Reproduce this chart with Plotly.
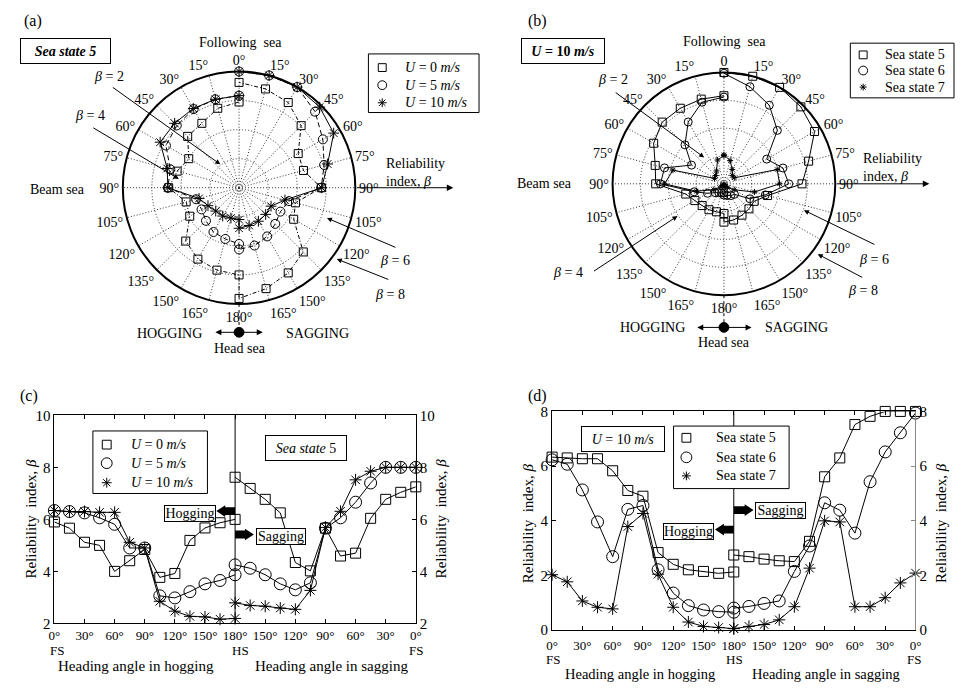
import plotly.graph_objects as go

W, H = 961, 690
FONT = "Liberation Serif"

# ---------------- data ----------------
headings = [0, 15, 30, 45, 60, 75, 90, 105, 120, 135, 150, 165, 180]

# Sea state 5 (panels a, c)
u0_hog = [5.9, 5.66, 5.12, 5.0, 4.0, 4.41, 4.84, 3.77, 3.92, 5.19, 5.67, 5.87, 6.0]
u0_sag = [7.25, 7.04, 6.77, 6.04, 4.7, 4.59, 5.66, 4.02, 4.34, 6.25, 6.77, 7.19, 7.62]
u5_hog = [6.34, 6.3, 6.25, 6.06, 5.81, 4.9, 4.9, 3.06, 2.98, 3.22, 3.52, 3.65, 3.87]
u5_sag = [8.0, 8.0, 8.0, 7.4, 6.66, 6.06, 5.66, 3.56, 3.29, 3.52, 3.87, 4.12, 4.25]
u10_hog = [6.34, 6.3, 6.3, 6.27, 6.27, 5.12, 4.9, 2.85, 2.47, 2.27, 2.25, 2.16, 2.19]
u10_sag = [8.0, 8.0, 8.0, 7.85, 7.52, 6.31, 5.69, 3.27, 2.54, 2.59, 2.66, 2.69, 2.79]

# U = 10 m/s (panels b, d)
ss5_hog = [6.33, 6.3, 6.27, 6.27, 5.83, 5.11, 4.9, 2.84, 2.41, 2.21, 2.15, 2.08, 2.13]
ss5_sag = [8.0, 8.0, 8.0, 7.82, 7.52, 6.3, 5.61, 3.25, 2.51, 2.54, 2.6, 2.69, 2.75]
ss6_hog = [6.23, 6.07, 5.13, 3.96, 2.69, 4.42, 4.56, 2.21, 1.36, 0.9, 0.74, 0.68, 0.66]
ss6_sag = [7.94, 7.22, 6.52, 5.43, 3.55, 4.39, 4.66, 3.08, 2.15, 1.07, 0.98, 0.87, 0.81]
ss7_hog = [2.03, 1.77, 1.07, 0.84, 0.78, 3.79, 4.27, 2.05, 0.84, 0.3, 0.14, 0.1, 0.06]
ss7_sag = [2.09, 1.73, 1.19, 0.86, 0.86, 3.96, 4.0, 2.27, 0.86, 0.38, 0.21, 0.14, 0.06]

names_a = ["<i>U</i> = 0 <i>m/s</i>", "<i>U</i> = 5 <i>m/s</i>", "<i>U</i> = 10 <i>m/s</i>"]
names_b = ["Sea state 5", "Sea state 6", "Sea state 7"]
polar_ticks = list(range(0, 360, 15))
cart_ticks = list(range(0, 361, 30))
cart_ticktext = ["0°", "30°", "60°", "90°", "120°", "150°", "180°",
                 "150°", "120°", "90°", "60°", "30°", "0°"]

# ---------------- helpers ----------------
def px(x):
    return x / W

def py(y):
    return 1 - y / H

annotations = []
shapes = []
FS = 15

def txt(x, y, s, size=FS, xanchor="center", yanchor="middle", **kw):
    annotations.append(dict(x=px(x), y=py(y), xref="paper", yref="paper", text=s,
                            showarrow=False, xanchor=xanchor, yanchor=yanchor,
                            font=dict(family=FONT, size=size, color="black"), **kw))

def box(x, y, s, w, h, size=FS):
    annotations.append(dict(x=px(x), y=py(y), xref="paper", yref="paper", text=s,
                            showarrow=False, xanchor="center", yanchor="middle",
                            width=w, height=h, bordercolor="black", borderwidth=1,
                            borderpad=0, bgcolor="white",
                            font=dict(family=FONT, size=size, color="black")))

def arrow(xh, yh, xt, yt, head=2, size=1.0, width=1):
    annotations.append(dict(x=px(xh), y=py(yh), xref="paper", yref="paper",
                            ax=xt - xh, ay=yt - yh, axref="pixel", ayref="pixel",
                            showarrow=True, arrowhead=head, arrowsize=size,
                            arrowwidth=width, arrowcolor="black", text=""))

def path_of(pts, close=True):
    p = "M " + " L ".join(f"{px(a):.5f},{py(b):.5f}" for a, b in pts)
    return p + (" Z" if close else "")

def fat_arrow(x_tail, x_tip, y, hh=6, bh=4, hl=9):
    d = 1 if x_tip > x_tail else -1
    xb = x_tip - d * hl
    pts = [(x_tip, y), (xb, y - hh), (xb, y - bh), (x_tail, y - bh),
           (x_tail, y + bh), (xb, y + bh), (xb, y + hh)]
    shapes.append(dict(type="path", path=path_of(pts), xref="paper", yref="paper",
                       fillcolor="black", line=dict(width=0)))

def vline(x, y0, y1, dash="dot", width=1):
    shapes.append(dict(type="line", xref="paper", yref="paper", x0=px(x), x1=px(x),
                       y0=py(y0), y1=py(y1), line=dict(color="black", width=width, dash=dash)))

def dot(x, y, r=5):
    shapes.append(dict(type="circle", xref="paper", yref="paper", x0=px(x - r), x1=px(x + r),
                       y0=py(y + r), y1=py(y - r), fillcolor="black", line=dict(color="black", width=1)))

def sym_shape(sym, x, y, s):
    r = s / 2
    ln = dict(color="black", width=1)
    if sym == "square-open":
        shapes.append(dict(type="rect", xref="paper", yref="paper", x0=px(x - r), x1=px(x + r),
                           y0=py(y + r), y1=py(y - r), line=ln))
    elif sym == "circle-open":
        shapes.append(dict(type="circle", xref="paper", yref="paper", x0=px(x - r), x1=px(x + r),
                           y0=py(y + r), y1=py(y - r), line=ln))
    else:
        d = r * 0.72
        p = " ".join([
            path_of([(x - r, y), (x + r, y)], False),
            path_of([(x, y - r), (x, y + r)], False),
            path_of([(x - d, y - d), (x + d, y + d)], False),
            path_of([(x - d, y + d), (x + d, y - d)], False)])
        shapes.append(dict(type="path", path=p, xref="paper", yref="paper", line=ln))

def legend_manual(x0, y0, x1, y1, rows, mx, tx, names, sizes, size=14):
    shapes.append(dict(type="rect", xref="paper", yref="paper", x0=px(x0), x1=px(x1),
                       y0=py(y1), y1=py(y0), line=dict(color="black", width=1),
                       fillcolor="white"))
    for yy, name, sym, s in zip(rows, names, symbols, sizes):
        sym_shape(sym, mx, yy, s)
        txt(tx, yy, name, size=size, xanchor="left")

symbols = ["square-open", "circle-open", "asterisk-open"]

fig = go.Figure()

# ---------------- polar panels ----------------
def polar_traces(subplot, hogs, sags, dashes, sizes):
    for hog, sag, sym, dash, sz in zip(hogs, sags, symbols, dashes, sizes):
        theta = [-h for h in headings] + [h for h in headings[::-1]]
        r = list(hog) + list(sag[::-1])
        fig.add_trace(go.Scatterpolar(
            r=r, theta=theta, subplot=subplot, mode="lines+markers", showlegend=False,
            line=dict(color="black", width=1, dash=dash),
            marker=dict(symbol=sym, size=sz, color="black", line=dict(width=1, color="black")),
            cliponaxis=False))

polar_traces("polar", [u0_hog, u5_hog, u10_hog], [u0_sag, u5_sag, u10_sag],
             ["4px,2px,1px,2px", "5px,3px", "solid"], [8, 9, 9])
polar_traces("polar2", [ss5_hog, ss6_hog, ss7_hog], [ss5_sag, ss6_sag, ss7_sag],
             ["solid", "solid", "solid"], [8, 8, 5])

def polar_layout(domx, domy, zero_text):
    ticktext = [(zero_text if v == 0 else (f"{v}°" if v <= 180 else f"{360 - v}°")) for v in polar_ticks]
    return dict(
        domain=dict(x=domx, y=domy), bgcolor="white",
        angularaxis=dict(direction="clockwise", rotation=90, tickmode="array",
                         tickvals=polar_ticks, ticktext=ticktext, ticks="",
                         showline=True, linecolor="black", linewidth=2,
                         showgrid=True, gridcolor="#333", gridwidth=1, griddash="1px,2px",
                         tickfont=dict(family=FONT, size=14, color="black")),
        radialaxis=dict(range=[0, 8], tickvals=[2, 4, 6], showticklabels=False, ticks="",
                        showline=False, showgrid=True, gridcolor="#333", gridwidth=1,
                        griddash="1px,2px"))

# ---------------- cartesian panels ----------------
def cart_traces(xa, ya, hogs, sags, sizes):
    for hog, sag, sym, sz in zip(hogs, sags, symbols, sizes):
        fig.add_trace(go.Scatter(x=headings, y=hog, xaxis=xa, yaxis=ya, mode="lines+markers",
                                 showlegend=False, cliponaxis=False,
                                 line=dict(color="black", width=1),
                                 marker=dict(symbol=sym, size=sz, color="black",
                                             line=dict(width=1, color="black"))))
        fig.add_trace(go.Scatter(x=[360 - h for h in headings], y=sag, xaxis=xa, yaxis=ya,
                                 mode="lines+markers", showlegend=False, cliponaxis=False,
                                 line=dict(color="black", width=1),
                                 marker=dict(symbol=sym, size=sz, color="black",
                                             line=dict(width=1, color="black"))))

cart_traces("x", "y", [u0_hog, u5_hog, u10_hog], [u0_sag, u5_sag, u10_sag], [10, 12, 10])
cart_traces("x2", "y3", [ss5_hog, ss6_hog, ss7_hog], [ss5_sag, ss6_sag, ss7_sag], [10, 12, 10])

# invisible helpers so the right-hand axes are drawn
fig.add_trace(go.Scatter(x=[None], y=[None], xaxis="x", yaxis="y2", showlegend=False, hoverinfo="skip"))
fig.add_trace(go.Scatter(x=[None], y=[None], xaxis="x2", yaxis="y4", showlegend=False, hoverinfo="skip"))

tickfont = dict(family=FONT, size=FS, color="black")
xtickfont = dict(family=FONT, size=13, color="black")

def xax(dom, anchor, standoff):
    return dict(domain=dom, anchor=anchor, range=[0, 360], tickmode="array",
                tickvals=cart_ticks, ticktext=cart_ticktext, ticks="inside", ticklen=4,
                tickangle=0, tickcolor="black", showline=True, linecolor="black", linewidth=1,
                mirror="ticks", showgrid=False, zeroline=False, tickfont=xtickfont,
                ticklabelstandoff=standoff)

def yax(dom, anchor, rng, tv, side="left", overlay=None, color="black"):
    d = dict(anchor=anchor, range=rng, tickmode="array", tickvals=tv, ticks="inside",
             ticklen=4, tickcolor=color, showline=True, linecolor=color, linewidth=1,
             showgrid=False, zeroline=False, tickfont=tickfont, side=side)
    if overlay:
        d["overlaying"] = overlay
    else:
        d["domain"] = dom
    return d

# divider lines at head sea
shapes.append(dict(type="line", xref="x", yref="y domain", x0=180, x1=180, y0=0, y1=1,
                   line=dict(color="black", width=1)))
shapes.append(dict(type="line", xref="x2", yref="y3 domain", x0=180, x1=180, y0=0, y1=1,
                   line=dict(color="black", width=1)))

# ---------------- panel (a) ----------------
txt(27, 13, "(a)", size=16)
box(60, 44, "<b><i>Sea state 5</i></b>", 89, 24, size=14)
txt(237, 35, "Following  sea", size=14)
txt(52, 186, "Beam sea", size=14)
arrow(453, 184, 355, 184, head=2, size=1.3)
txt(383, 168, "Reliability<br>index, <i>β</i>", xanchor="left", align="left", size=14)
txt(104, 70, "<i>β</i> = 2", size=14)
arrow(217, 160, 108, 82)
txt(85, 110, "<i>β</i> = 4", size=14)
arrow(175, 175, 88, 123)
txt(394, 258, "<i>β</i> = 6", size=14)
arrow(325, 215, 395, 245)
txt(389, 293, "<i>β</i> = 8", size=14)
arrow(335, 257, 388, 278)
vline(236, 303, 327)
dot(236, 332)
arrow(212, 332, 236, 332, head=2, size=1.2)
arrow(260, 332, 236, 332, head=2, size=1.2)
txt(166, 333, "HOGGING", size=14)
txt(315, 333, "SAGGING", size=14)
txt(237, 349, "Head sea", size=14)
legend_manual(367, 47, 479, 107, [61, 79, 97], 381, 402, names_a, [8, 9, 9])

# ---------------- panel (b) ----------------
txt(538, 13, "(b)", size=16)
box(564, 44, "<b><i>U</i> = 10 <i>m/s</i></b>", 82, 24, size=14)
txt(728, 34, "Following  sea", size=14)
txt(545, 180, "Beam sea", size=14)
arrow(935, 180, 841, 180, head=2, size=1.3)
txt(866, 163, "Reliability<br>index, <i>β</i>", xanchor="left", align="left", size=14)
txt(615, 73, "<i>β</i> = 2", size=14)
arrow(707, 153, 617, 87)
txt(569, 271, "<i>β</i> = 4", size=14)
arrow(680, 213, 595, 269)
txt(879, 257, "<i>β</i> = 6", size=14)
arrow(808, 207, 880, 242)
txt(868, 289, "<i>β</i> = 8", size=14)
arrow(822, 252, 868, 276)
vline(727, 294, 322)
dot(727, 327)
arrow(700, 327, 727, 327, head=2, size=1.2)
arrow(755, 327, 727, 327, head=2, size=1.2)
txt(655, 327, "HOGGING", size=14)
txt(800, 327, "SAGGING", size=14)
txt(727, 342, "Head sea", size=14)
legend_manual(855, 36, 960, 92, [48, 64, 81], 868, 888, names_b, [8, 9, 7])

# ---------------- panel (c) ----------------
txt(23, 397, "(c)", size=16)
box(304, 450, "<i>Sea state</i> 5", 80, 24, size=14)
box(186, 517, "Hogging", 50, 15, size=14)
fat_arrow(232, 213, 515)
box(278, 541, "Sagging", 48, 15, size=14)
fat_arrow(232, 251, 539)
txt(25, 523, "Reliability  index, <i>β</i>", textangle=-90)
txt(440, 523, "Reliability  index, <i>β</i>", textangle=-90)
txt(52, 657.5, "FS", size=13)
txt(237, 657.5, "HS", size=13)
txt(415, 657.5, "FS", size=13)
txt(132, 674, "Heading angle in hogging")
txt(330, 674, "Heading angle in sagging")
legend_manual(88, 433, 204, 497, [447, 466, 486], 102, 125, names_a, [9, 11, 10])

# ---------------- panel (d) ----------------
txt(538, 397, "(d)", size=16)
box(625, 441, "<i>U</i> = 10 <i>m/s</i>", 82, 24, size=14)
box(784, 514, "Sagging", 49, 15, size=14)
fat_arrow(737, 757, 514)
box(691, 536, "Hogging", 49, 15, size=14)
fat_arrow(737, 718, 534)
txt(528, 527, "Reliability  index, <i>β</i>", textangle=-90)
txt(947, 527, "Reliability  index, <i>β</i>", textangle=-90)
txt(554, 666.5, "FS", size=13)
txt(738, 666.5, "HS", size=13)
txt(919, 666.5, "FS", size=13)
txt(642, 682, "Heading angle in hogging", size=14.5)
txt(830, 682, "Heading angle in sagging", size=14.5)
legend_manual(676, 428, 793, 492, [440, 460, 479], 689, 717, names_b, [9, 11, 9])

fig.update_layout(
    width=W, height=H, autosize=False, margin=dict(l=0, r=0, t=0, b=0),
    paper_bgcolor="white", plot_bgcolor="white", showlegend=False,
    font=dict(family=FONT, size=FS, color="black"),
    polar=polar_layout([117 / W, 355 / W], [1 - 303 / H, 1 - 65 / H], "0°"),
    polar2=polar_layout([613 / W, 841 / W], [1 - 294 / H, 1 - 66 / H], "0"),
    xaxis=xax([49 / W, 415 / W], "y", 0),
    yaxis=yax([1 - 630 / H, 1 - 417 / H], "x", [2, 10], [2, 4, 6, 8, 10]),
    yaxis2=yax(None, "x", [2, 10], [2, 4, 6, 8, 10], side="right", overlay="y"),
    xaxis2=xax([553 / W, 921 / W], "y3", 3),
    yaxis3=yax([1 - 637 / H, 1 - 413 / H], "x2", [0, 8], [0, 2, 4, 6, 8]),
    yaxis4=yax(None, "x2", [0, 8], [0, 2, 4, 6, 8], side="right", overlay="y3", color="#888"),
    annotations=annotations, shapes=shapes,
)
fig.update_layout(yaxis4=dict(tickfont=dict(family=FONT, size=FS, color="black")))

fix_page = ("}); document.body.style.margin='0px'; "
            "document.documentElement.style.overflow='hidden'; (function(){")

fig.write_html("out.html", config={"displayModeBar": False}, post_script=fix_page)
